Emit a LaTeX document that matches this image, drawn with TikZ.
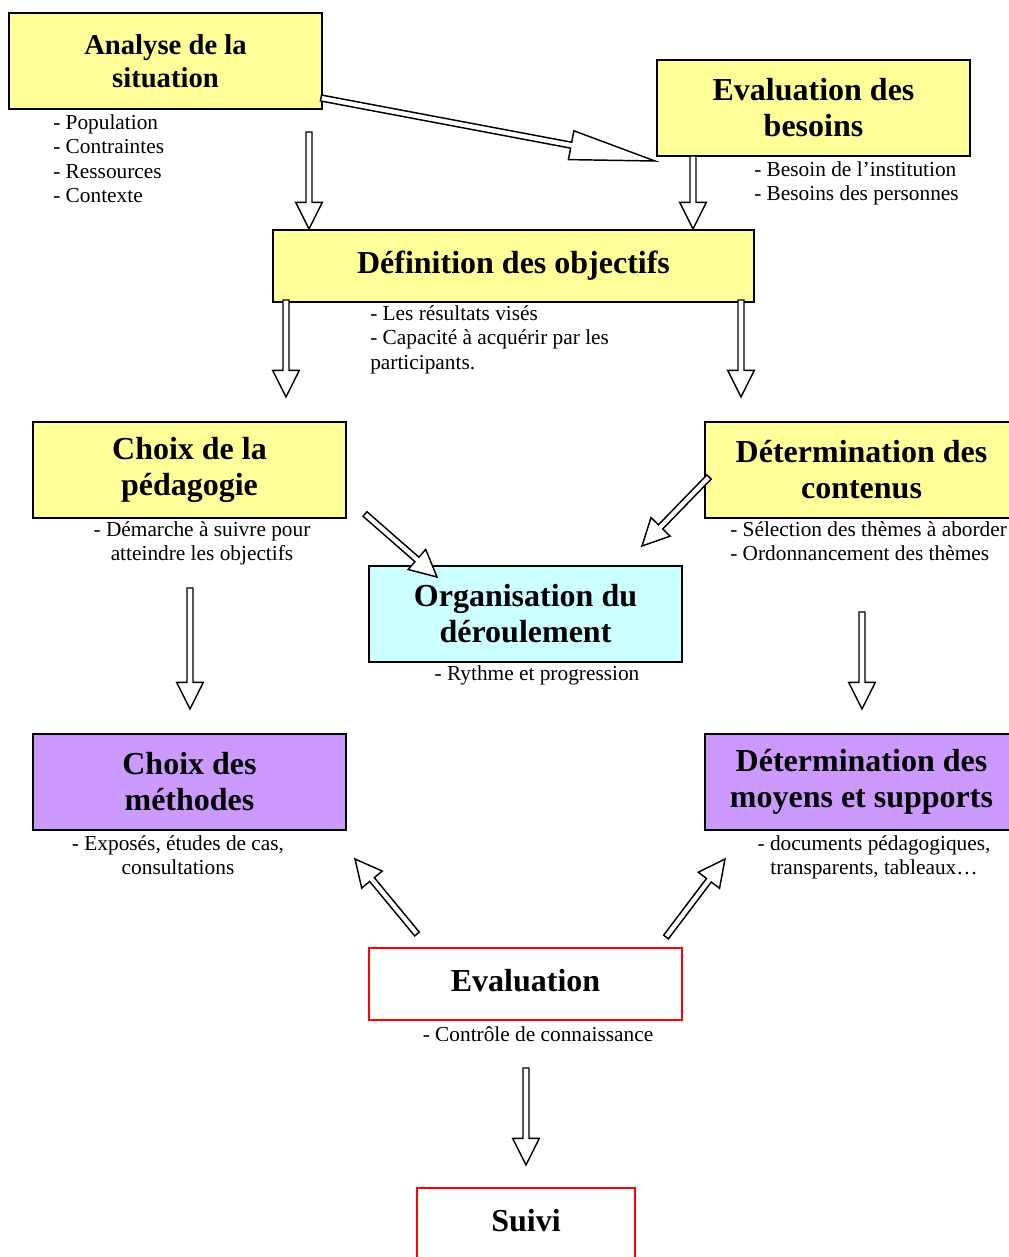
\documentclass[tikz,border=0pt]{standalone}
\usepackage{fontspec}
\setmainfont{Liberation Serif}
\usepackage{tikz}
\usetikzlibrary{calc}
\usepackage{xcolor}

\definecolor{paleyellow}{HTML}{FFFF99}
\definecolor{palecyan}{HTML}{CCFFFF}
\definecolor{lilac}{HTML}{CC99FF}

\newcommand{\titlefont}{\fontsize{24}{27}\selectfont\bfseries}
\newcommand{\firsttitlefont}{\fontsize{21.5}{24.75}\selectfont\bfseries}
\newcommand{\notefont}{\fontsize{16}{18.4}\selectfont}

% hollow block arrow: #1 tail, #2 tip, #3 head length, #4 head half width
\newcommand{\blockarrow}[4]{%
  \coordinate (ba-base) at ($(#2)!#3!(#1)$);
  \draw[hollowarrow] ($(#1)!2.25pt!90:(#2)$) -- ($(ba-base)!2.25pt!90:(#2)$)
    -- ($(ba-base)!#4!90:(#2)$) -- (#2) -- ($(ba-base)!#4!-90:(#2)$)
    -- ($(ba-base)!2.25pt!-90:(#2)$) -- ($(#1)!2.25pt!-90:(#2)$) -- cycle;
}

\begin{document}
\begin{tikzpicture}[x=0.75pt, y=-0.75pt]

        \useasboundingbox (0,0) rectangle (1009,1257);
        \clip (0,0) rectangle (1009,1257);

        \tikzset{box/.style={draw, line width=1.5pt, minimum width=234.75pt, minimum height=72pt, align=center, inner sep=0pt, font=\titlefont},
                 redbox/.style={box, draw=red, fill=white, text depth=6pt},
                 note/.style={inner sep=0pt, font=\notefont},
                 hollowarrow/.style={draw=black, fill=white, line width=1.1pt, line join=miter}}

        % 1. The boxes
        \node[box, fill=paleyellow, font=\firsttitlefont] (analyse) at (165.5,61) {Analyse de la\\situation};
        \node[box, fill=paleyellow] (besoins) at (813.5,108) {Evaluation des\\besoins};
        \node[box, fill=paleyellow, minimum width=360.75pt, minimum height=54pt] (objectifs) at (513.5,266) {Définition des objectifs};

        \node[box, fill=paleyellow] (pedagogie) at (189.5,470) {Choix de la\\pédagogie};
        \node[box, fill=paleyellow] (contenus) at (861.5,470) {Détermination des\\contenus};
        \node[box, fill=palecyan] (organisation) at (525.5,614) {Organisation du\\déroulement};

        \node[box, fill=lilac] (methodes) at (189.5,782) {Choix des\\méthodes};
        \node[box, fill=lilac] (moyens) at (861.5,782) {Détermination des\\moyens et supports};

        \node[redbox, minimum height=54pt] (evaluation) at (525.5,984) {Evaluation};
        \node[redbox, line width=2.2pt, minimum width=163.5pt, minimum height=54pt] (suivi) at (526,1224) {Suivi};

        % 2. The notes under the boxes
        \node[note, anchor=north west, align=left] (analyse-note) at (53,114) {- Population\\- Contraintes\\- Ressources\\- Contexte};
        \node[note, anchor=north west, align=left] (besoins-note) at (754,161) {- Besoin de l’institution\\- Besoins des personnes};
        \node[note, anchor=north west, align=left] (objectifs-note) at (370,305) {- Les résultats visés\\- Capacité à acquérir par les\\participants.};
        \node[note, anchor=north, align=center] (pedagogie-note) at (202,521) {- Démarche à suivre pour\\atteindre les objectifs};
        \node[note, anchor=north west, align=left] (contenus-note) at (730,521) {- Sélection des thèmes à aborder\\- Ordonnancement des thèmes};
        \node[note, anchor=north] (organisation-note) at (537,665) {- Rythme et progression};
        \node[note, anchor=north, align=center] (methodes-note) at (178,835) {- Exposés, études de cas,\\consultations};
        \node[note, anchor=north, align=center] (moyens-note) at (874,835) {- documents pédagogiques,\\transparents, tableaux…};
        \node[note, anchor=north] (evaluation-note) at (538,1026) {- Contrôle de connaissance};

        % 3. Arrow ends
        \coordinate (a1s) at (321,98);  \coordinate (a1e) at (655,161);
        \coordinate (a2s) at (309,132); \coordinate (a2e) at (309,229);
        \coordinate (a3s) at (693,156); \coordinate (a3e) at (693,229);
        \coordinate (a4s) at (286,300); \coordinate (a4e) at (286,397);
        \coordinate (a5s) at (741,300); \coordinate (a5e) at (741,397);
        \coordinate (a6s) at (365,514); \coordinate (a6e) at (437,577);
        \coordinate (a7s) at (709,477); \coordinate (a7e) at (642,546);
        \coordinate (a8s) at (190,588); \coordinate (a8e) at (190,709);
        \coordinate (a9s) at (862,612); \coordinate (a9e) at (862,709);
        \coordinate (a10s) at (417,934); \coordinate (a10e) at (355,859);
        \coordinate (a11s) at (666,937); \coordinate (a11e) at (725,859);
        \coordinate (a12s) at (526,1068); \coordinate (a12e) at (526,1165);

        % 4. The arrows
        \blockarrow{a1s}{a1e}{64pt}{11pt}
        \foreach \i in {2,3,4,5,8,9,12} {
            \blockarrow{a\i s}{a\i e}{20pt}{10pt}
        }
        \foreach \i in {6,7,10,11} {
            \blockarrow{a\i s}{a\i e}{20pt}{10pt}
        }

\end{tikzpicture}
\end{document}
